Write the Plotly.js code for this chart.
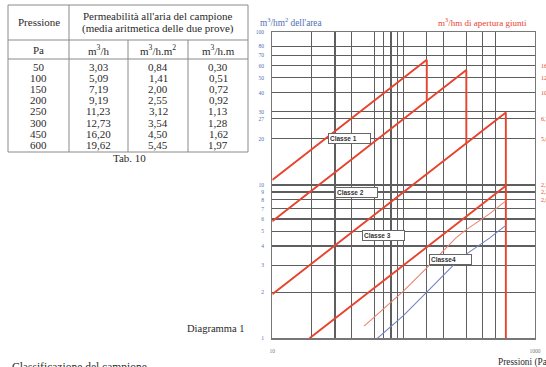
<!DOCTYPE html>
<html><head><meta charset="utf-8">
<script src="https://cdn.plot.ly/plotly-3.0.1.min.js"></script>
<style>html,body{margin:0;padding:0;background:#fff}#c{width:546px;height:367px}</style>
</head><body><div id="c"></div>
<script>
// ---- data ----
const pressures = [50, 100, 150, 200, 250, 300, 450, 600];
const flowM3h = [3.03, 5.09, 7.19, 9.19, 11.23, 12.73, 16.20, 19.62];
const flowArea = [0.84, 1.41, 2.00, 2.55, 3.12, 3.54, 4.50, 5.45];
const flowJoint = [0.30, 0.51, 0.72, 0.92, 1.13, 1.28, 1.62, 1.97];
const fmt = v => v.toFixed(2).replace('.', ',');

const class1X = [10, 150, 150], class1Y = [10.8, 65.5, 35.4];
const class2X = [10, 300, 300], class2Y = [5.8, 56.2, 18.7];
const class3X = [10, 600, 600], class3Y = [1.94, 29.7, 1];
const class4X = [19.2, 600], class4Y = [1, 9.9];
const classNames = ['Classe 1', 'Classe 2', 'Classe 3', 'Classe4'];

const xGrid = [10, 20, 30, 40, 60, 70, 80, 90, 100, 150, 200, 300, 400, 500, 1000];
const xGridText = ['10', '', '', '', '', '', '', '', '', '', '', '', '', '', '1000'];
const yGrid = [1, 2, 3, 4, 5, 6, 7, 8, 9, 10, 20, 27, 30, 40, 50, 60, 70, 80, 100];
const rightLabels = ['16,37', '12,50', '10,50', '6,75', '5,65', '2,50', '2,25', '2,00'];
const rightLevels = [60, 50, 40, 27, 20, 10, 9, 8];

// ---- helpers (pixel -> paper) ----
const W = 546, H = 367;
const px = x => x / W, py = y => 1 - y / H;

const red = '#e8432d', blue = '#4f6fb5', grid = '#5e5e5e', txt = '#2a2a2a';

const traces = [
  {x: class1X, y: class1Y, mode: 'lines', line: {color: red, width: 1.9}, hoverinfo: 'skip'},
  {x: class2X, y: class2Y, mode: 'lines', line: {color: red, width: 1.9}, hoverinfo: 'skip'},
  {x: class3X, y: class3Y, mode: 'lines', line: {color: red, width: 1.9}, hoverinfo: 'skip'},
  {x: class4X, y: class4Y, mode: 'lines', line: {color: red, width: 1.9}, hoverinfo: 'skip'},
  {x: pressures, y: flowJoint, yaxis: 'y2', mode: 'lines', line: {color: '#e9836f', width: 1.1}, hoverinfo: 'skip'},
  {x: pressures, y: flowArea, mode: 'lines', line: {color: '#7283c4', width: 1.1}, hoverinfo: 'skip'}
];

const ann = [];
const shapes = [];
const serif = 'Liberation Serif';
function T(x, y, text, size, opts) {
  ann.push(Object.assign({xref: 'paper', yref: 'paper', x: px(x), y: py(y), text: text, showarrow: false,
    font: {family: serif, size: size, color: txt}, xanchor: 'center', yanchor: 'middle'}, opts || {}));
}
function L(x0, y0, x1, y1, w, c) {
  shapes.push({type: 'line', xref: 'paper', yref: 'paper', x0: px(x0), y0: py(y0), x1: px(x1), y1: py(y1),
    line: {color: c || '#8a8a8a', width: w || 1}});
}

// ---- table ----
const tL = 8, tR = 248, tT = 5, tB = 152, h1 = 40, h2 = 59, c1 = 69, c2 = 128, c3 = 188;
const fs = 11;
L(tL, tT, tR, tT); L(tL, tB, tR, tB); L(tL, tT, tL, tB); L(tR, tT, tR, tB);
L(tL, h1, tR, h1); L(tL, h2, tR, h2);
L(c1, tT, c1, tB); L(c2, h1, c2, tB); L(c3, h1, c3, tB);
T(38.5, 22, 'Pressione', fs);
T(158, 15.5, "Permeabilità all'aria del campione", fs);
T(158, 29, '(media aritmetica delle due prove)', fs);
T(38.5, 50, 'Pa', fs);
T(98.5, 50, 'm<sup>3</sup>/h', fs);
T(158, 50, 'm<sup>3</sup>/h.m<sup>2</sup>', fs);
T(218, 50, 'm<sup>3</sup>/h.m', fs);
pressures.forEach((p, i) => {
  const y = 67 + i * 11.1;
  T(38.5, y, String(p), fs);
  T(98.5, y, fmt(flowM3h[i]), fs);
  T(158, y, fmt(flowArea[i]), fs);
  T(218, y, fmt(flowJoint[i]), fs);
});
T(129, 158, 'Tab. 10', fs);
T(215.5, 328, 'Diagramma 1', 10.5);
T(10, 367, 'Classificazione del campione', 11.5, {xanchor: 'left'});

// ---- chart labels ----
T(258, 22, 'm<sup>3</sup>/hm<sup>2</sup> dell\'area', 9.3, {xanchor: 'left', font: {family: serif, size: 9.3, color: blue}});
T(529, 22, 'm<sup>3</sup>/hm di apertura giunti', 9, {xanchor: 'right', font: {family: serif, size: 9, color: red}});
T(496, 362, 'Pressioni (Pa)', 9.3, {xanchor: 'left'});
rightLevels.forEach((lv, i) => {
  ann.push({xref: 'paper', yref: 'y', x: px(539), y: Math.log10(lv), text: rightLabels[i], showarrow: false,
    xanchor: 'left', yanchor: 'middle', font: {family: serif, size: 6, color: red}});
});
// label boxes: left edge / vertical centre in pixels
const boxPos = [[327.5, 138.7], [334.5, 192.5], [361.5, 235], [428.5, 259.7]];
classNames.forEach((name, i) => {
  ann.push({xref: 'paper', yref: 'paper', x: px(boxPos[i][0]), y: py(boxPos[i][1]), text: '<b>' + name + '</b>', showarrow: false,
    xanchor: 'left', yanchor: 'middle', align: 'left', width: 39, height: 7,
    bgcolor: '#ffffff', bordercolor: '#666', borderwidth: 1, borderpad: 1,
    font: {family: 'Liberation Sans', size: 6.5, color: '#333'}});
});

const layout = {
  width: W, height: H, margin: {l: 0, r: 0, t: 0, b: 0},
  paper_bgcolor: '#ffffff', plot_bgcolor: '#ffffff', showlegend: false,
  xaxis: {type: 'log', range: [1, 3], domain: [px(272.3), px(535)], tickvals: xGrid, ticktext: xGridText,
    showgrid: true, gridcolor: grid, gridwidth: 1.2, zeroline: false, showline: true, linecolor: '#777', linewidth: 1.2, mirror: true,
    ticks: '', ticklabelstandoff: 7, tickfont: {family: serif, size: 5.5, color: '#777'}, fixedrange: true},
  yaxis: {type: 'log', range: [0, 2], domain: [py(338.3), py(31.7)], tickvals: yGrid, ticktext: yGrid.map(String),
    showgrid: true, gridcolor: grid, gridwidth: 1.2, zeroline: false, showline: true, linecolor: '#777', linewidth: 1.2, mirror: true,
    ticks: '', ticklabelstandoff: 6, tickfont: {family: serif, size: 5.5, color: blue}, fixedrange: true},
  yaxis2: {type: 'log', overlaying: 'y', range: [Math.log10(0.25), Math.log10(25)], visible: false, fixedrange: true},
  annotations: ann, shapes: shapes
};
Plotly.newPlot('c', traces, layout, {displayModeBar: false, staticPlot: true});
</script></body></html>
